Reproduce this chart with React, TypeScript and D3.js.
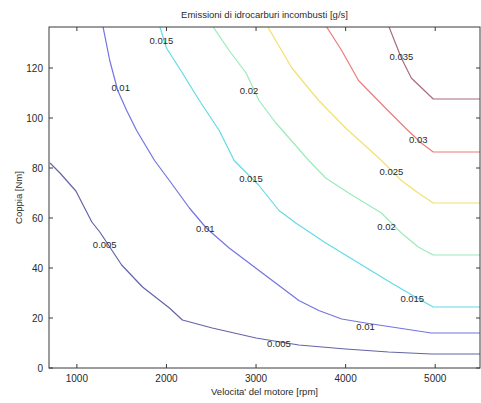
import React from "react";
import * as d3 from "d3";

// Contour levels of unburnt hydrocarbon emissions [g/s]
const levels = [0.005, 0.01, 0.015, 0.02, 0.025, 0.03, 0.035];
const levelColors = ["#6464a6", "#7474e2", "#62dbe8", "#9ceabc", "#f2e070", "#ee7c7c", "#a86c7c"];

// Iso-emission curves: [engine speed rpm, torque Nm]
const c005: [number, number][] = [
  [700, 82], [811, 78], [989, 70.8], [1167, 58.4], [1256, 54.4], [1500, 41.2],
  [1733, 32.4], [2033, 24], [2178, 19.2], [2511, 16], [3000, 12], [3478, 9.2],
  [4000, 7.6], [4478, 6.4], [4956, 5.6], [5500, 5.6],
];
const c010: [number, number][] = [
  [1289, 137], [1367, 123], [1456, 111], [1556, 103], [1667, 95], [1867, 83],
  [2033, 75], [2256, 64], [2444, 56], [2700, 48], [3033, 39], [3478, 27],
  [3700, 23], [3956, 19.6], [4222, 18], [4589, 16], [4956, 14], [5500, 14],
];
const c015: [number, number][] = [
  [1922, 137], [2000, 128], [2178, 118], [2367, 107], [2589, 95], [2756, 83],
  [3033, 73], [3256, 63], [3444, 58], [3778, 50], [4144, 42], [4511, 34],
  [4778, 28.4], [4978, 24.4], [5500, 24.4],
];
const c020: [number, number][] = [
  [2511, 137], [2700, 127], [2889, 118], [3033, 107], [3222, 98], [3589, 83],
  [3778, 76], [4033, 70], [4400, 62], [4622, 54], [4811, 48.4], [4978, 45.2],
  [5500, 45.2],
];
const c025: [number, number][] = [
  [3122, 137], [3400, 120], [3700, 107], [4000, 96], [4400, 83], [4622, 75],
  [4811, 70], [4978, 66], [5500, 66],
];
const c030: [number, number][] = [
  [3778, 137], [3956, 127], [4144, 115], [4444, 104], [4667, 96], [4844, 90],
  [4978, 86.4], [5500, 86.4],
];
const c035: [number, number][] = [
  [4478, 137], [4622, 124], [4733, 116], [4978, 107.6], [5500, 107.6],
];
const curves = [c005, c010, c015, c020, c025, c030, c035];

// Inline contour labels: [rpm, Nm, level]
const contourLabels: [number, number, number][] = [
  [1311, 49.6, 0.005], [3256, 10, 0.005],
  [1489, 112.4, 0.01], [2433, 56, 0.01], [4222, 16.8, 0.01],
  [1944, 131.2, 0.015], [2944, 76, 0.015], [4744, 28, 0.015],
  [2922, 111.2, 0.02], [4456, 56.8, 0.02],
  [4511, 78.8, 0.025],
  [4811, 91.6, 0.03],
  [4622, 124.8, 0.035],
];

const xTicks = [1000, 2000, 3000, 4000, 5000];
const yTicks = [0, 20, 40, 60, 80, 100, 120];

const W = 481;
const H = 403;
const left = 49;
const right = 480;
const top = 27;
const bottom = 368;
const font = "'Liberation Sans', Arial, Helvetica, sans-serif";

export default function App() {
  const x = d3.scaleLinear().domain([700, 5500]).range([left + 1, right]);
  const y = d3.scaleLinear().domain([0, 136.4]).range([bottom, top]);
  const line = d3.line<[number, number]>().x((d) => x(d[0])).y((d) => y(d[1]));
  const fmt = (v: number) => String(+v.toFixed(3));
  const tick = 4;

  return (
    <svg width={W} height={H} style={{ position: "absolute", left: 0, top: 0, background: "#fff" }}>
      <defs>
        <clipPath id="plotArea">
          <rect x={left} y={top} width={right - left} height={bottom - top} />
        </clipPath>
      </defs>
      <rect x={0} y={0} width={W} height={H} fill="#fff" />

      <g clipPath="url(#plotArea)">
        {curves.map((c, i) => (
          <path key={i} d={line(c) || ""} fill="none" stroke={levelColors[i]} strokeWidth={1.2}
            strokeLinejoin="round" />
        ))}
      </g>

      {contourLabels.map(([r, t, lv], i) => (
        <text key={i} x={x(r)} y={y(t)} textAnchor="middle" dominantBaseline="central"
          fontFamily={font} fontSize={9.5} fill="#2a2a2a">
          {fmt(lv)}
        </text>
      ))}

      {/* box */}
      <rect x={left} y={top} width={right - left} height={bottom - top} fill="none" stroke="#3a3a3a" strokeWidth={1} />

      {xTicks.map((v) => (
        <g key={v}>
          <line x1={x(v)} x2={x(v)} y1={bottom} y2={bottom - tick} stroke="#3a3a3a" />
          <line x1={x(v)} x2={x(v)} y1={top} y2={top + tick} stroke="#3a3a3a" />
          <text x={x(v)} y={bottom + 14} textAnchor="middle" fontFamily={font} fontSize={10} fill="#2a2a2a">{v}</text>
        </g>
      ))}
      {yTicks.map((v) => (
        <g key={v}>
          <line x1={left} x2={left + tick} y1={y(v)} y2={y(v)} stroke="#3a3a3a" />
          <line x1={right} x2={right - tick} y1={y(v)} y2={y(v)} stroke="#3a3a3a" />
          <text x={left - 6} y={y(v)} textAnchor="end" dominantBaseline="central" fontFamily={font} fontSize={10} fill="#2a2a2a">{v}</text>
        </g>
      ))}

      <text x={(left + right) / 2} y={18} textAnchor="middle" fontFamily={font} fontSize={9.5} fill="#2a2a2a">
        Emissioni di idrocarburi incombusti [g/s]
      </text>
      <text x={(left + right) / 2} y={395} textAnchor="middle" fontFamily={font} fontSize={9.5} fill="#2a2a2a">
        Velocita' del motore [rpm]
      </text>
      <text transform={`translate(22, ${(top + bottom) / 2}) rotate(-90)`} textAnchor="middle"
        fontFamily={font} fontSize={9.5} fill="#2a2a2a">
        Coppia [Nm]
      </text>
    </svg>
  );
}
